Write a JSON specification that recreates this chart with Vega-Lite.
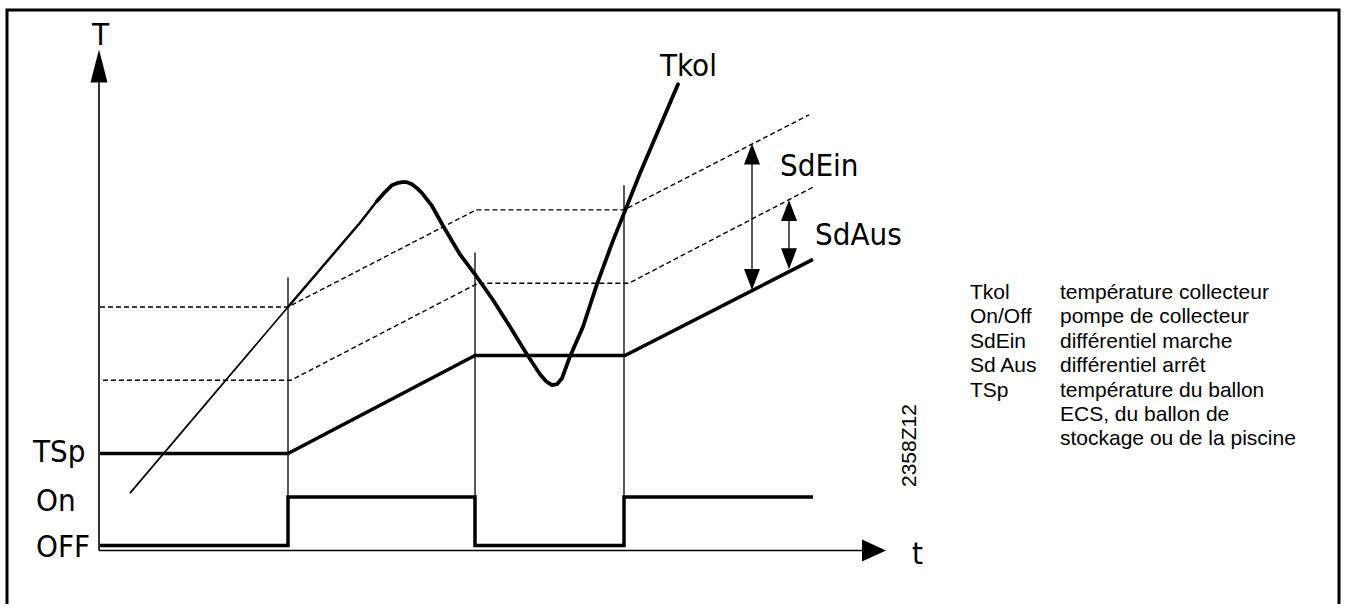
{
  "$schema": "https://vega.github.io/schema/vega-lite/v6.json",
  "width": 1346,
  "height": 610,
  "autosize": {"type": "fit", "contains": "padding"},
  "padding": 0,
  "background": "white",
  "config": {"view": {"stroke": null}},
  "datasets": {
    "lines": [
      {"series": "frame", "i": 0, "t": -92, "T": -54},
      {"series": "frame", "i": 1, "t": -92, "T": 546},
      {"series": "frame", "i": 2, "t": 1240, "T": 546},
      {"series": "frame", "i": 3, "t": 1240, "T": -54},
      {"series": "axisT", "i": 0, "t": 0, "T": 0},
      {"series": "axisT", "i": 1, "t": 0, "T": 473},
      {"series": "axisX", "i": 0, "t": 0, "T": 0},
      {"series": "axisX", "i": 1, "t": 763, "T": 0},
      {"series": "v1", "i": 0, "t": 189, "T": 276},
      {"series": "v1", "i": 1, "t": 189, "T": 5},
      {"series": "v2", "i": 0, "t": 376, "T": 301},
      {"series": "v2", "i": 1, "t": 376, "T": 5},
      {"series": "v3", "i": 0, "t": 525, "T": 369},
      {"series": "v3", "i": 1, "t": 525, "T": 5},
      {"series": "arrEin", "i": 0, "t": 653, "T": 405},
      {"series": "arrEin", "i": 1, "t": 653, "T": 269},
      {"series": "arrAus", "i": 0, "t": 690, "T": 348},
      {"series": "arrAus", "i": 1, "t": 690, "T": 290},
      {"series": "TSp", "i": 0, "t": 1, "T": 98},
      {"series": "TSp", "i": 1, "t": 189, "T": 98},
      {"series": "TSp", "i": 2, "t": 376, "T": 197},
      {"series": "TSp", "i": 3, "t": 526, "T": 197},
      {"series": "TSp", "i": 4, "t": 714, "T": 294},
      {"series": "pump", "i": 0, "t": 1, "T": 5},
      {"series": "pump", "i": 1, "t": 189, "T": 5},
      {"series": "pump", "i": 2, "t": 189, "T": 54},
      {"series": "pump", "i": 3, "t": 376, "T": 54},
      {"series": "pump", "i": 4, "t": 376, "T": 5},
      {"series": "pump", "i": 5, "t": 525, "T": 5},
      {"series": "pump", "i": 6, "t": 525, "T": 54},
      {"series": "pump", "i": 7, "t": 714, "T": 54},
      {"series": "thrEin", "i": 0, "t": 1, "T": 246},
      {"series": "thrEin", "i": 1, "t": 189, "T": 246},
      {"series": "thrEin", "i": 2, "t": 377, "T": 344},
      {"series": "thrEin", "i": 3, "t": 525, "T": 344},
      {"series": "thrEin", "i": 4, "t": 710, "T": 440},
      {"series": "thrAus", "i": 0, "t": 4, "T": 172},
      {"series": "thrAus", "i": 1, "t": 192, "T": 172},
      {"series": "thrAus", "i": 2, "t": 379, "T": 270},
      {"series": "thrAus", "i": 3, "t": 530, "T": 270},
      {"series": "thrAus", "i": 4, "t": 714, "T": 367},
      {"series": "Tkol_a", "i": 0, "t": 31, "T": 58},
      {"series": "Tkol_a", "i": 1, "t": 189, "T": 246},
      {"series": "Tkol_b", "i": 0, "t": 189, "T": 246},
      {"series": "Tkol_b", "i": 1, "t": 261, "T": 331},
      {"series": "Tkol_b", "i": 2, "t": 278, "T": 353},
      {"series": "Tkol_c", "i": 0, "t": 278, "T": 353},
      {"series": "Tkol_c", "i": 1, "t": 286, "T": 362},
      {"series": "Tkol_c", "i": 2, "t": 293, "T": 369},
      {"series": "Tkol_c", "i": 3, "t": 298, "T": 371},
      {"series": "Tkol_c", "i": 4, "t": 303, "T": 372},
      {"series": "Tkol_c", "i": 5, "t": 308, "T": 372},
      {"series": "Tkol_c", "i": 6, "t": 313, "T": 370},
      {"series": "Tkol_c", "i": 7, "t": 318, "T": 366},
      {"series": "Tkol_c", "i": 8, "t": 323, "T": 361},
      {"series": "Tkol_c", "i": 9, "t": 333, "T": 348},
      {"series": "Tkol_c", "i": 10, "t": 344, "T": 328},
      {"series": "Tkol_c", "i": 11, "t": 361, "T": 299},
      {"series": "Tkol_c", "i": 12, "t": 376, "T": 279},
      {"series": "Tkol_c", "i": 13, "t": 394, "T": 253},
      {"series": "Tkol_c", "i": 14, "t": 411, "T": 226},
      {"series": "Tkol_c", "i": 15, "t": 428, "T": 198},
      {"series": "Tkol_c", "i": 16, "t": 441, "T": 178},
      {"series": "Tkol_c", "i": 17, "t": 447, "T": 171},
      {"series": "Tkol_c", "i": 18, "t": 453, "T": 167},
      {"series": "Tkol_c", "i": 19, "t": 458, "T": 168},
      {"series": "Tkol_c", "i": 20, "t": 463, "T": 174},
      {"series": "Tkol_c", "i": 21, "t": 471, "T": 196},
      {"series": "Tkol_c", "i": 22, "t": 484, "T": 226},
      {"series": "Tkol_c", "i": 23, "t": 498, "T": 269},
      {"series": "Tkol_c", "i": 24, "t": 514, "T": 313},
      {"series": "Tkol_c", "i": 25, "t": 526, "T": 343},
      {"series": "Tkol_c", "i": 26, "t": 541, "T": 381},
      {"series": "Tkol_c", "i": 27, "t": 579, "T": 471}
    ],
    "arrowheads": [
      {"kind": "Taxis", "t": 0, "T": 506},
      {"kind": "taxis", "t": 787, "T": 0},
      {"kind": "up", "t": 653, "T": 411},
      {"kind": "down", "t": 653, "T": 263},
      {"kind": "up", "t": 690, "T": 354},
      {"kind": "down", "t": 690, "T": 284}
    ],
    "labels": [
      {"label": "T", "t": -7, "T": 511},
      {"label": "t", "t": 813, "T": -14},
      {"label": "TSp", "t": -66, "T": 89},
      {"label": "On", "t": -63, "T": 40},
      {"label": "OFF", "t": -63, "T": -7},
      {"label": "Tkol", "t": 561, "T": 479},
      {"label": "SdEin", "t": 681, "T": 378},
      {"label": "SdAus", "t": 716, "T": 309}
    ],
    "legend": [
      {"text": "Tkol", "t": 871, "T": 254.3},
      {"text": "température collecteur", "t": 961, "T": 254.3},
      {"text": "On/Off", "t": 871, "T": 229.6},
      {"text": "pompe de collecteur", "t": 961, "T": 229.6},
      {"text": "SdEin", "t": 871, "T": 204.9},
      {"text": "différentiel marche", "t": 961, "T": 204.9},
      {"text": "Sd Aus", "t": 871, "T": 180.2},
      {"text": "différentiel arrêt", "t": 961, "T": 180.2},
      {"text": "TSp", "t": 871, "T": 155.5},
      {"text": "température du ballon", "t": 961, "T": 155.5},
      {"text": "ECS, du ballon de", "t": 961, "T": 130.8},
      {"text": "stockage ou de la piscine", "t": 961, "T": 106.1}
    ],
    "code": [
      {"text": "2358Z12", "t": 811, "T": 106}
    ]
  },
  "encoding": {
    "x": {"field": "t", "type": "quantitative", "scale": {"domain": [-99, 1247], "nice": false, "zero": false}, "axis": null},
    "y": {"field": "T", "type": "quantitative", "scale": {"domain": [-54, 556], "nice": false, "zero": false}, "axis": null}
  },
  "layer": [
    {
      "data": {"name": "lines"},
      "transform": [{"filter": {"field": "series", "oneOf": ["frame"]}}],
      "mark": {"type": "line", "color": "black", "strokeWidth": 3},
      "encoding": {"detail": {"field": "series", "type": "nominal"}, "order": {"field": "i", "type": "quantitative"}}
    },
    {
      "data": {"name": "lines"},
      "transform": [{"filter": {"field": "series", "oneOf": ["axisT", "axisX"]}}],
      "mark": {"type": "line", "color": "black", "strokeWidth": 1.6},
      "encoding": {"detail": {"field": "series", "type": "nominal"}, "order": {"field": "i", "type": "quantitative"}}
    },
    {
      "data": {"name": "lines"},
      "transform": [{"filter": {"field": "series", "oneOf": ["v1", "v2", "v3", "arrEin", "arrAus"]}}],
      "mark": {"type": "line", "color": "black", "strokeWidth": 1.3},
      "encoding": {"detail": {"field": "series", "type": "nominal"}, "order": {"field": "i", "type": "quantitative"}}
    },
    {
      "data": {"name": "lines"},
      "transform": [{"filter": {"field": "series", "oneOf": ["thrEin", "thrAus"]}}],
      "mark": {"type": "line", "color": "black", "strokeWidth": 1.4, "strokeDash": [5, 3]},
      "encoding": {"detail": {"field": "series", "type": "nominal"}, "order": {"field": "i", "type": "quantitative"}}
    },
    {
      "data": {"name": "lines"},
      "transform": [{"filter": {"field": "series", "oneOf": ["Tkol_a"]}}],
      "mark": {"type": "line", "color": "black", "strokeWidth": 1.7},
      "encoding": {"detail": {"field": "series", "type": "nominal"}, "order": {"field": "i", "type": "quantitative"}}
    },
    {
      "data": {"name": "lines"},
      "transform": [{"filter": {"field": "series", "oneOf": ["Tkol_b"]}}],
      "mark": {"type": "line", "color": "black", "strokeWidth": 2.5, "strokeCap": "round"},
      "encoding": {"detail": {"field": "series", "type": "nominal"}, "order": {"field": "i", "type": "quantitative"}}
    },
    {
      "data": {"name": "lines"},
      "transform": [{"filter": {"field": "series", "oneOf": ["Tkol_c"]}}],
      "mark": {"type": "line", "color": "black", "strokeWidth": 3.8, "strokeJoin": "round", "strokeCap": "round"},
      "encoding": {"detail": {"field": "series", "type": "nominal"}, "order": {"field": "i", "type": "quantitative"}}
    },
    {
      "data": {"name": "lines"},
      "transform": [{"filter": {"field": "series", "oneOf": ["TSp", "pump"]}}],
      "mark": {"type": "line", "color": "black", "strokeWidth": 3.5},
      "encoding": {"detail": {"field": "series", "type": "nominal"}, "order": {"field": "i", "type": "quantitative"}}
    },
    {
      "data": {"name": "arrowheads"},
      "mark": {"type": "point", "filled": true, "color": "black", "size": 4, "opacity": 1, "strokeWidth": 0},
      "encoding": {
        "shape": {
          "field": "kind",
          "type": "nominal",
          "scale": {
            "domain": ["Taxis", "taxis", "up", "down"],
            "range": ["M0,0L-8.5,33L8.5,33Z", "M0,0L-24,-11L-24,11Z", "M0,0L-8,21L8,21Z", "M0,0L-8,-21L8,-21Z"]
          },
          "legend": null
        }
      }
    },
    {
      "data": {"name": "labels"},
      "mark": {"type": "text", "font": "DejaVu Sans Condensed, Liberation Sans, sans-serif", "fontSize": 31, "align": "left", "baseline": "alphabetic", "color": "black"},
      "encoding": {"text": {"field": "label", "type": "nominal"}}
    },
    {
      "data": {"name": "legend"},
      "mark": {"type": "text", "font": "Liberation Sans", "fontSize": 21, "align": "left", "baseline": "alphabetic", "color": "black"},
      "encoding": {"text": {"field": "text", "type": "nominal"}}
    },
    {
      "data": {"name": "code"},
      "mark": {"type": "text", "font": "Liberation Sans", "fontSize": 21, "align": "center", "baseline": "middle", "angle": 270, "color": "black"},
      "encoding": {"text": {"field": "text", "type": "nominal"}}
    }
  ]
}
